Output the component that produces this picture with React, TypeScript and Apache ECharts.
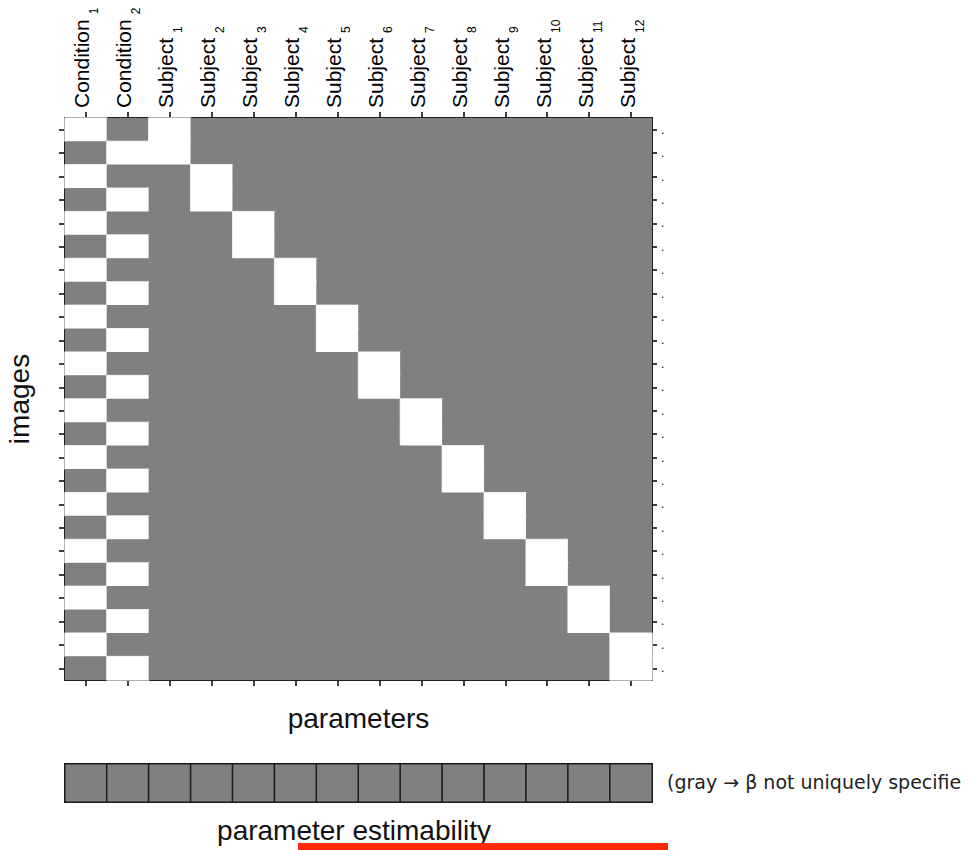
import React, { useEffect, useRef } from "react";
import * as echarts from "echarts";

// ---- data ----
const paramNames = [
  "Condition", "Condition",
  "Subject", "Subject", "Subject", "Subject", "Subject", "Subject",
  "Subject", "Subject", "Subject", "Subject", "Subject", "Subject",
];
const paramIndices = ["1", "2", "1", "2", "3", "4", "5", "6", "7", "8", "9", "10", "11", "12"];
const imageLabels = [
  "1", "2", "3", "4", "5", "6", "7", "8", "9", "10", "11", "12",
  "13", "14", "15", "16", "17", "18", "19", "20", "21", "22", "23", "24",
];
// condition (1 or 2) of each image
const imageCondition = [1, 2, 1, 2, 1, 2, 1, 2, 1, 2, 1, 2, 1, 2, 1, 2, 1, 2, 1, 2, 1, 2, 1, 2];
// subject (1..12) of each image
const imageSubject = [1, 1, 2, 2, 3, 3, 4, 4, 5, 5, 6, 6, 7, 7, 8, 8, 9, 9, 10, 10, 11, 11, 12, 12];
// parameter estimability: 0 = gray (not uniquely specified), 1 = white
const estimability = [0, 0, 0, 0, 0, 0, 0, 0, 0, 0, 0, 0, 0, 0];

const xTitle = "parameters";
const yTitle = "images";
const estTitle = "parameter estimability";
const estNote = "(gray \u2192 \u03b2 not uniquely specifie";

const FONT = "'Liberation Sans', Arial, Helvetica, sans-serif";

export default function App() {
  const ref = useRef<HTMLDivElement>(null);

  useEffect(() => {
    if (!ref.current) return;
    const chart = echarts.init(ref.current, null, { renderer: "svg" });

    const categories = paramNames.map((n, i) => n + " " + paramIndices[i]);

    const matrix: any[] = [];
    imageLabels.forEach((_, r) => {
      categories.forEach((_c, c) => {
        let v = 0;
        if (c < 2) v = imageCondition[r] === c + 1 ? 1 : 0;
        else v = imageSubject[r] === c - 1 ? 1 : 0;
        matrix.push(
          v === 1
            ? { value: [c, r, v], itemStyle: { borderColor: "#ffffff", borderWidth: 0.8 } }
            : { value: [c, r, v] }
        );
      });
    });
    const estData = estimability.map((v, c) => [c, 0, v]);

    const tickStyle = { color: "#000", width: 1.5 };
    const lineStyle = { color: "#000", width: 2 };

    chart.setOption({
      animation: false,
      backgroundColor: "#fff",
      textStyle: { fontFamily: FONT },
      grid: [
        {
          left: 65, top: 118, width: 587, height: 562,
          containLabel: false, outerBoundsMode: "none",
          show: true, backgroundColor: "#808080", borderWidth: 0,
        },
        {
          left: 65, top: 764, width: 587, height: 38,
          containLabel: false, outerBoundsMode: "none",
          show: true, backgroundColor: "#808080", borderWidth: 0,
        },
      ],
      xAxis: [
        {
          gridIndex: 0,
          type: "category",
          data: categories,
          position: "top",
          axisLine: { show: true, lineStyle },
          axisTick: { show: true, interval: 0, alignWithLabel: true, length: 6, lineStyle: tickStyle },
          axisLabel: {
            show: true,
            rotate: -90,
            margin: 10,
            interval: 0,
            color: "#000",
            padding: [0, 0, 8, 0],
            formatter: (_v: string, i: number) => `{n|${paramNames[i]}}{s|${paramIndices[i]}}`,
            rich: {
              n: { fontSize: 21, lineHeight: 37, fontFamily: FONT, color: "#000" },
              s: {
                fontSize: 12,
                lineHeight: 12,
                verticalAlign: "bottom",
                padding: [0, 0, 0, 5],
                fontFamily: FONT,
                color: "#000",
              },
            },
          },
          splitLine: { show: false },
        },
        {
          gridIndex: 0,
          type: "category",
          data: categories,
          position: "bottom",
          axisLine: { show: true, lineStyle },
          axisTick: { show: true, interval: 0, alignWithLabel: true, length: 6, lineStyle: tickStyle },
          axisLabel: { show: false, interval: 0 },
          splitLine: { show: false },
          name: xTitle,
          nameLocation: "middle",
          nameGap: 24,
          nameTextStyle: { fontSize: 28, color: "#111", fontFamily: FONT },
        },
        {
          gridIndex: 1,
          type: "category",
          data: categories,
          show: false,
        },
      ],
      yAxis: [
        {
          gridIndex: 0,
          type: "category",
          data: imageLabels,
          inverse: true,
          position: "left",
          axisLine: { show: true, lineStyle },
          axisTick: { show: true, interval: 0, alignWithLabel: true, length: 6, lineStyle: tickStyle },
          axisLabel: { show: false, interval: 0 },
          splitLine: { show: false },
          name: yTitle,
          nameLocation: "middle",
          nameRotate: 90,
          nameGap: 32,
          nameTextStyle: { fontSize: 28, color: "#111", fontFamily: FONT },
        },
        {
          gridIndex: 0,
          type: "category",
          data: imageLabels,
          inverse: true,
          position: "right",
          axisLine: { show: true, lineStyle },
          axisTick: { show: true, interval: 0, alignWithLabel: true, length: 5, lineStyle: tickStyle },
          axisLabel: {
            show: true,
            interval: 0,
            margin: 9,
            fontSize: 12,
            color: "#000",
            padding: [4, 0, 0, 0],
            formatter: () => ".",
          },
          splitLine: { show: false },
        },
        {
          gridIndex: 1,
          type: "category",
          data: ["estimability"],
          show: false,
        },
      ],
      visualMap: {
        type: "piecewise",
        show: false,
        dimension: 2,
        seriesIndex: [0, 1],
        pieces: [
          { value: 0, color: "#808080" },
          { value: 1, color: "#ffffff" },
        ],
      },
      series: [
        {
          type: "heatmap",
          xAxisIndex: 0,
          yAxisIndex: 0,
          data: matrix,
          itemStyle: { borderWidth: 0 },
          emphasis: { disabled: true },
        },
        {
          type: "heatmap",
          xAxisIndex: 2,
          yAxisIndex: 2,
          data: estData,
          itemStyle: { borderWidth: 1.5, borderColor: "#1a1a1a" },
          emphasis: { disabled: true },
        },
      ],
      graphic: [
        {
          type: "text",
          left: 667,
          top: 772,
          style: {
            text: estNote,
            fontSize: 19,
            fontFamily: "'DejaVu Sans', sans-serif",
            fill: "#222",
          },
        },
        {
          type: "text",
          x: 354,
          y: 830,
          style: {
            text: estTitle,
            fontSize: 28,
            fontFamily: FONT,
            fill: "#111",
            align: "center",
            verticalAlign: "middle",
          },
        },
        {
          type: "rect",
          shape: { x: 298, y: 843, width: 370, height: 10 },
          style: { fill: "#ff2a0a" },
        },
      ],
    });

    return () => chart.dispose();
  }, []);

  return (
    <div
      ref={ref}
      style={{ position: "absolute", left: 0, top: 0, width: 973, height: 850 }}
    />
  );
}
